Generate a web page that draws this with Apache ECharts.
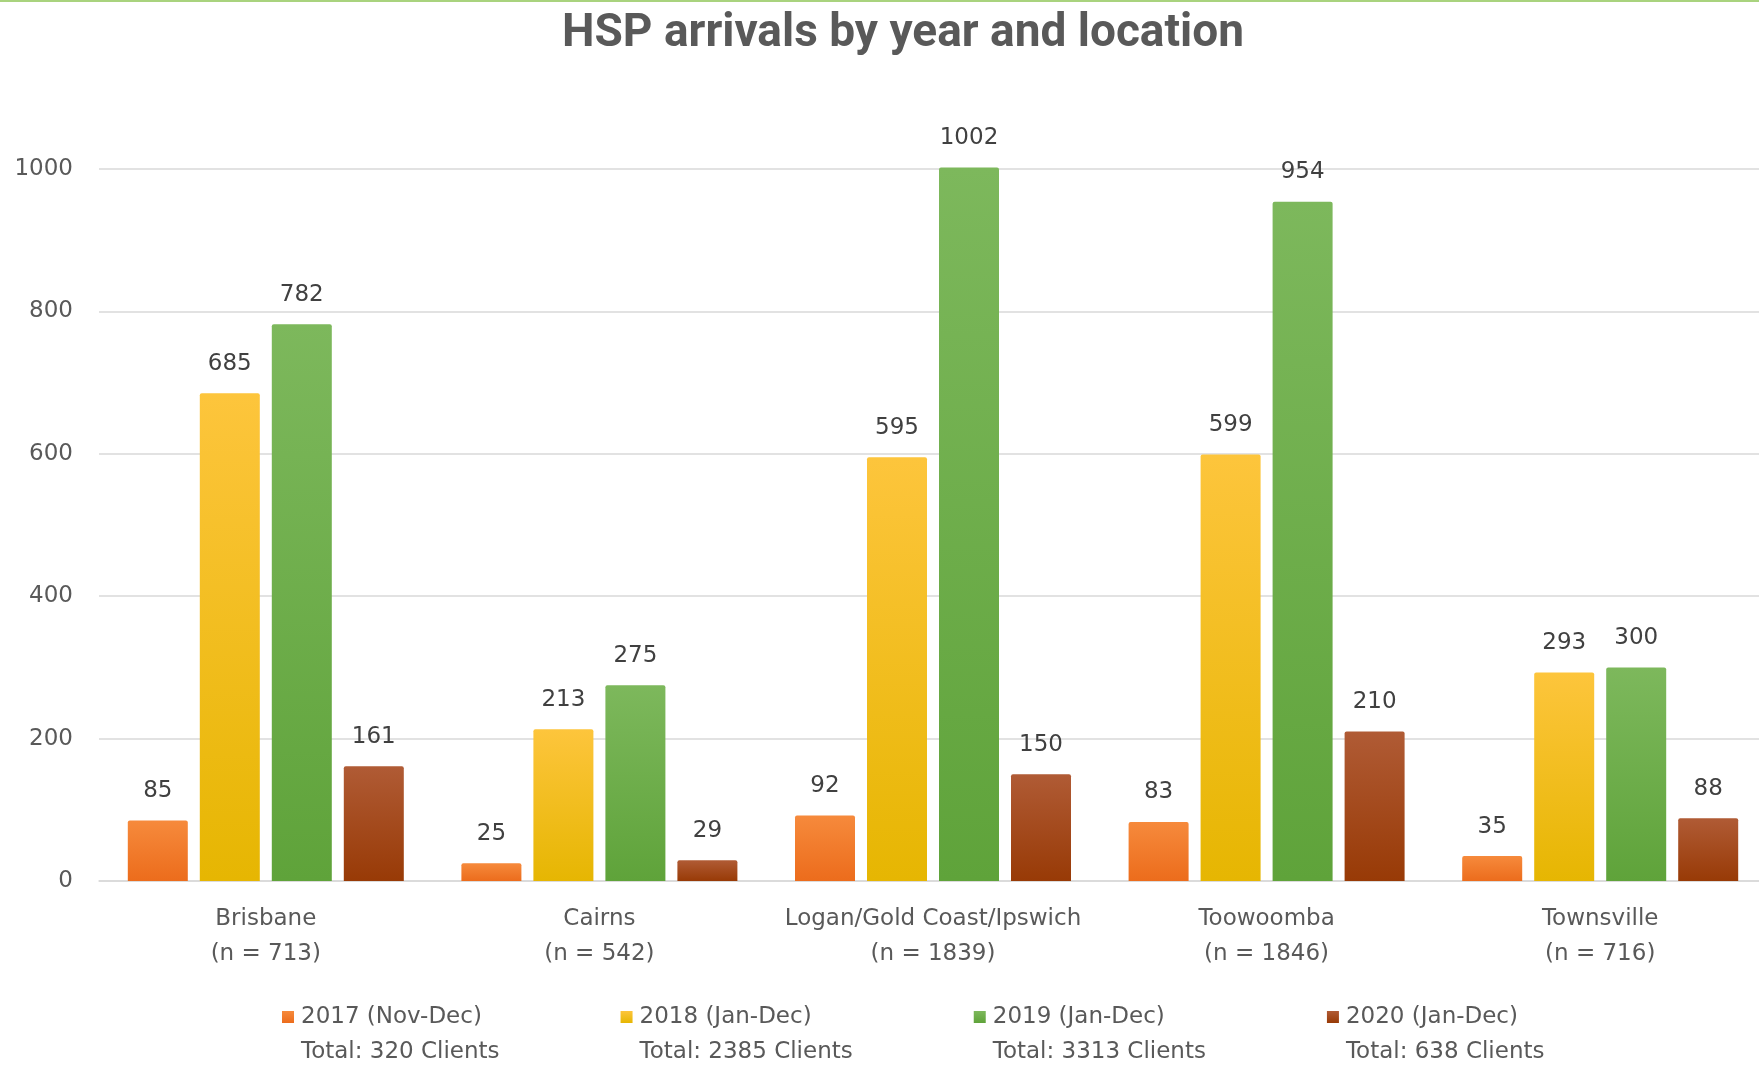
<!DOCTYPE html>
<html>
<head>
<meta charset="utf-8">
<script src="https://cdn.jsdelivr.net/npm/echarts@6/dist/echarts.min.js"></script>
<style>
html,body{margin:0;padding:0;background:#fff;}
#chart{width:1759px;height:1065px;}
</style>
</head>
<body>
<div id="chart"></div>
<script>
// ---- data ----
const categories = ['Brisbane', 'Cairns', 'Logan/Gold Coast/Ipswich', 'Toowoomba', 'Townsville'];
const nLabels = ['713', '542', '1839', '1846', '716'];
const seriesNames = ['2017 (Nov-Dec)', '2018 (Jan-Dec)', '2019 (Jan-Dec)', '2020 (Jan-Dec)'];
const values2017 = [85, 25, 92, 83, 35];
const values2018 = [685, 213, 595, 599, 293];
const values2019 = [782, 275, 1002, 954, 300];
const values2020 = [161, 29, 150, 210, 88];
const yTicks = { min: 0, max: 1000, interval: 200 };
const titleText = 'HSP arrivals by year and location';

// ---- styling ----
const gradients = [
  ['#F68A3C', '#EC6C1C'],
  ['#FDC53C', '#E6B602'],
  ['#7DB85C', '#5FA33A'],
  ['#B05B35', '#983A06']
];
const allValues = [values2017, values2018, values2019, values2020];
const totals = {};
seriesNames.forEach((n, i) => { totals[n] = allValues[i].reduce((a, b) => a + b, 0); });

const FONT = 'DejaVu Sans';
const LH = 35;

const chart = echarts.init(document.getElementById('chart'), null, { renderer: 'canvas' });
chart.setOption({
  animation: false,
  backgroundColor: '#ffffff',
  title: {
    text: titleText,
    left: 898,
    top: 6,
    textAlign: 'center',
    textStyle: { fontFamily: 'Liberation Sans Narrow, Roboto, sans-serif', fontWeight: 'bold', fontSize: 46, color: '#595959' }
  },
  graphic: [{
    type: 'rect', left: 0, top: 0, shape: { width: 1759, height: 2 }, style: { fill: '#A9D37E' }, silent: true
  }],
  legend: {
    left: 282,
    top: 1017 - 1.5 * LH,
    padding: 0,
    itemWidth: 12,
    itemHeight: 12,
    itemGap: 121,
    icon: 'rect',
    data: seriesNames,
    formatter: name => '{a|' + name + '}\n{b|Total: ' + totals[name] + ' Clients}',
    textStyle: {
      padding: [LH, 0, 0, 2],
      fontFamily: FONT,
      fontSize: 23,
      color: '#595959',
      lineHeight: LH,
      rich: {
        a: { fontFamily: FONT, fontSize: 23, color: '#595959', lineHeight: LH },
        b: { fontFamily: FONT, fontSize: 23, color: '#595959', lineHeight: LH }
      }
    }
  },
  grid: { left: 99, top: 169, width: 1668, bottom: 184, containLabel: false, outerBoundsMode: 'none' },
  xAxis: {
    type: 'category',
    data: categories,
    axisLine: { lineStyle: { color: '#D9D9D9', width: 1.5 } },
    axisTick: { show: false },
    axisLabel: {
      interval: 0,
      margin: 21,
      fontFamily: FONT,
      fontSize: 23,
      color: '#595959',
      lineHeight: LH,
      formatter: (v, i) => v + '\n(n = ' + nLabels[i] + ')'
    }
  },
  yAxis: {
    type: 'value',
    min: yTicks.min,
    max: yTicks.max,
    interval: yTicks.interval,
    axisLine: { show: false },
    axisTick: { show: false },
    splitLine: { lineStyle: { color: '#D9D9D9', width: 1.5 } },
    axisLabel: { margin: 26, fontFamily: FONT, fontSize: 23, color: '#595959', formatter: v => String(v) }
  },
  series: seriesNames.map((name, i) => ({
    name: name,
    type: 'bar',
    data: allValues[i],
    barWidth: 60,
    barGap: '20%',
    clip: false,
    itemStyle: {
      borderRadius: [2, 2, 0, 0],
      color: new echarts.graphic.LinearGradient(0, 0, 0, 1, [
        { offset: 0, color: gradients[i][0] },
        { offset: 1, color: gradients[i][1] }
      ])
    },
    label: {
      show: true,
      position: 'top',
      distance: 18,
      fontFamily: FONT,
      fontSize: 23,
      color: '#404040'
    }
  }))
});
</script>
</body>
</html>
